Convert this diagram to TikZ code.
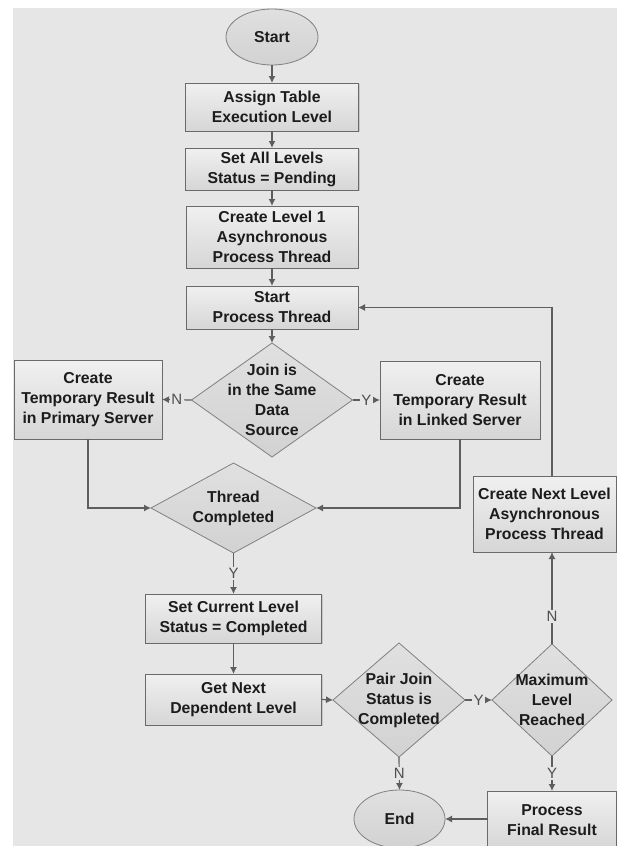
\documentclass[tikz,border=0pt]{standalone}
\usepackage{fontspec}
\setmainfont{Liberation Sans}
\usetikzlibrary{shapes.geometric,arrows.meta,shadows}

\definecolor{canvas}{HTML}{E6E6E6}
\definecolor{edge}{HTML}{5E5E5E}
\definecolor{frame}{HTML}{6A6A6A}
\definecolor{ink}{HTML}{1C1C1C}
\definecolor{tag}{HTML}{4E4E4E}
\definecolor{boxtop}{HTML}{F0F0F0}
\definecolor{boxbot}{HTML}{D6D6D6}
\definecolor{diatop}{HTML}{E0E0E0}
\definecolor{diabot}{HTML}{D2D2D2}

\begin{document}
\begin{tikzpicture}[x=1pt,y=-1pt,
  every node/.style={font=\fontsize{15.8}{20}\selectfont\bfseries, text=ink,
    inner sep=0pt, outer sep=0pt},
  procbox/.style={rectangle, draw=frame, line width=0.9pt,
    top color=boxtop, bottom color=boxbot, align=center,
    drop shadow={shadow xshift=1.3pt, shadow yshift=-1.3pt, opacity=0.3}},
  decision/.style={diamond, draw=frame!85, line width=0.8pt,
    top color=diatop, bottom color=diabot},
  diatext/.style={align=center},
  terminal/.style={ellipse, draw=frame!85, line width=0.8pt,
    top color=diatop, bottom color=diabot},
  conn/.style={draw=edge, line width=1.2pt, -{Latex[length=7pt,width=7pt]}},
  tagtext/.style={font=\fontsize{15}{18}\selectfont\mdseries, text=tag,
    fill=canvas, inner sep=1.6pt}
]
\useasboundingbox (0,0) rectangle (626,846);
\fill[white] (0,0) rectangle (626,846);

\begin{scope}
\clip (13,8) rectangle (617,846);
\fill[canvas] (13,8) rectangle (617,846);

% main column
\node[terminal, minimum width=92, minimum height=56] (start) at (272,37) {Start};
\node[procbox, minimum width=173, minimum height=48] (assign) at (272,107)
  {Assign Table\\Execution Level};
\node[procbox, minimum width=173, minimum height=42] (levels) at (272,169)
  {Set All Levels\\Status = Pending};
\node[procbox, minimum width=172, minimum height=62] (lvlone) at (272,237)
  {Create Level 1\\Asynchronous\\Process Thread};
\node[procbox, minimum width=172, minimum height=43] (spt) at (272,307.5)
  {Start\\Process Thread};
\node[decision, minimum width=161, minimum height=114,
  label={[diatext]center:Join is\\in the Same\\Data\\Source}] (join) at (272,400) {};

% branches of the data-source test
\node[procbox, minimum width=148, minimum height=79] (primary) at (88,399.5)
  {Create\\Temporary Result\\in Primary Server};
\node[procbox, minimum width=160, minimum height=78] (linked) at (460,400)
  {Create\\Temporary Result\\in Linked Server};

\node[decision, minimum width=165, minimum height=90,
  label={[diatext]center:Thread\\Completed}] (thread) at (233.5,508) {};

\node[procbox, minimum width=176, minimum height=49] (setcur) at (233.5,618.5)
  {Set Current Level\\Status = Completed};
\node[procbox, minimum width=176, minimum height=51] (getnext) at (233.5,699.5)
  {Get Next\\Dependent Level};

\node[decision, minimum width=132, minimum height=114,
  label={[diatext]center:Pair Join\\Status is\\Completed}] (pair) at (399,700) {};
\node[decision, minimum width=120, minimum height=112,
  label={[diatext]center:Maximum\\Level\\Reached}] (maxlvl) at (552,700) {};

\node[procbox, minimum width=143, minimum height=76] (nextlvl) at (544.5,514)
  {Create Next Level\\Asynchronous\\Process Thread};
\node[procbox, minimum width=129, minimum height=58] (final) at (552,820)
  {Process\\Final Result};
\node[terminal, minimum width=91, minimum height=58] (endn) at (399.5,819) {End};

% connectors
\draw[conn] (start) -- (assign);
\draw[conn] (assign) -- (levels);
\draw[conn] (levels) -- (lvlone);
\draw[conn] (lvlone) -- (spt);
\draw[conn] (spt) -- (join);
\draw[conn] (join.west) -- node[tagtext]{N} (primary.east);
\draw[conn] (join.east) -- node[tagtext]{Y} (linked.west);
\draw[conn] (primary.south) |- (thread.west);
\draw[conn] (linked.south) |- (thread.east);
\draw[conn] (thread.south) -- node[tagtext]{Y} (setcur.north);
\draw[conn] (setcur) -- (getnext);
\draw[conn] (getnext.east) -- (pair.west);
\draw[conn] (pair.east) -- node[tagtext]{Y} (maxlvl.west);
\draw[conn] (pair.south) -- node[tagtext]{N} (endn.north);
\draw[conn] (maxlvl.south) -- node[tagtext]{Y} (final.north);
\draw[conn] (maxlvl.north) -- node[tagtext, pos=0.3]{N} (maxlvl.north |- nextlvl.south);
\draw[conn] (maxlvl.north |- nextlvl.north) |- (spt.east);
\draw[conn] (endn.east -| final.west) -- (endn.east);
\end{scope}
\end{tikzpicture}
\end{document}
